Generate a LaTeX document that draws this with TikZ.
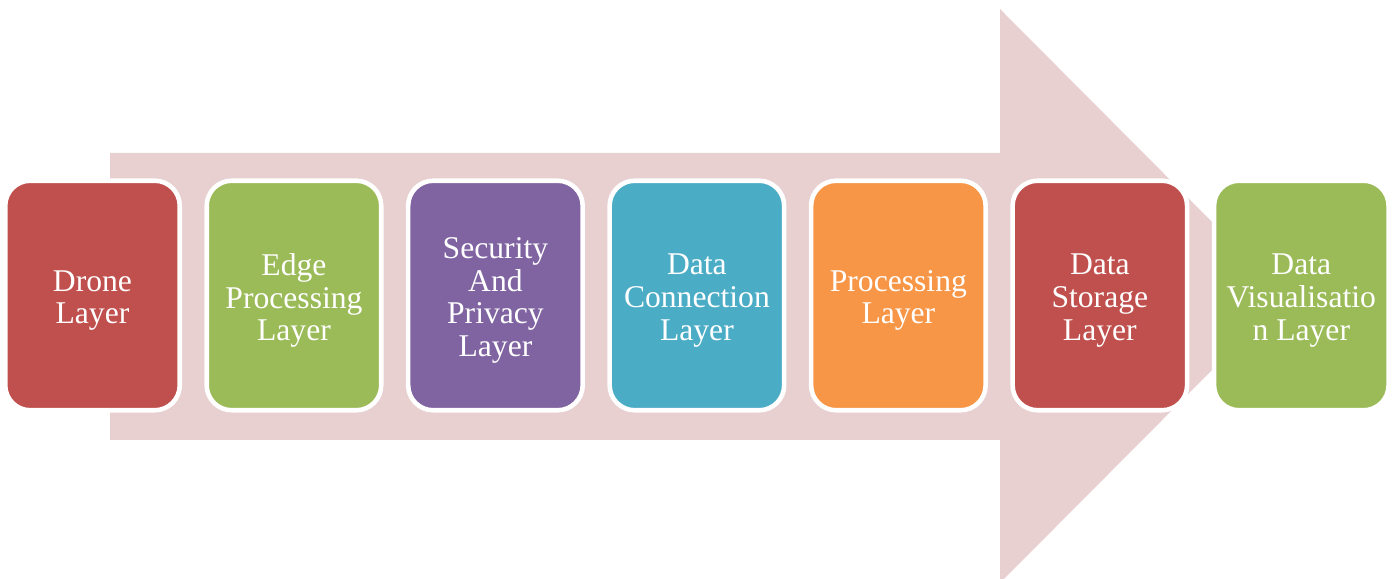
\documentclass[tikz,border=0pt]{standalone}
\usepackage{fontspec}
\setmainfont{Liberation Serif}
\usepackage{tikz}
\usetikzlibrary{positioning}
\definecolor{arrowpink}{RGB}{232,208,209}
\definecolor{layerred}{RGB}{192,80,77}
\definecolor{layergreen}{RGB}{155,187,89}
\definecolor{layerpurple}{RGB}{128,100,162}
\definecolor{layerteal}{RGB}{75,172,198}
\definecolor{layerorange}{RGB}{247,150,70}
\tikzset{
layer/.style={draw=white,line width=2.6pt,rounded corners=0.5cm,minimum width=3.49cm,minimum height=4.59cm},
layertext/.style={align=center,text=white,font=\fontsize{18}{18.7}\selectfont,yshift=-0.1cm},
}

\begin{document}
\begin{tikzpicture}
\useasboundingbox (0cm,0cm) rectangle (27.94cm,11.58cm);
\fill[arrowpink] (2.2cm,8.52cm) -- (20.0cm,8.52cm) -- (20.0cm,11.4cm) -- (24.26cm,7.12cm) -- (24.26cm,4.2cm) -- (20.0cm,-0.08cm) -- (20.0cm,2.78cm) -- (2.2cm,2.78cm) -- cycle;
\node[layer,fill=layerred,label={[layertext]center:Drone\\Layer}] (drone) at (1.85cm,5.67cm) {};
\node[layer,fill=layergreen,right=0.448cm of drone,label={[layertext]center:Edge\\Processing\\Layer}] (edge) {};
\node[layer,fill=layerpurple,right=0.448cm of edge,label={[layertext]center:Security\\And\\Privacy\\Layer}] (security) {};
\node[layer,fill=layerteal,right=0.448cm of security,label={[layertext]center:Data\\Connection\\Layer}] (connection) {};
\node[layer,fill=layerorange,right=0.448cm of connection,label={[layertext]center:Processing\\Layer}] (processing) {};
\node[layer,fill=layerred,right=0.448cm of processing,label={[layertext]center:Data\\Storage\\Layer}] (storage) {};
\node[layer,fill=layergreen,right=0.448cm of storage,label={[layertext]center:Data\\Visualisatio\\n Layer}] (visual) {};
\end{tikzpicture}
\end{document}
